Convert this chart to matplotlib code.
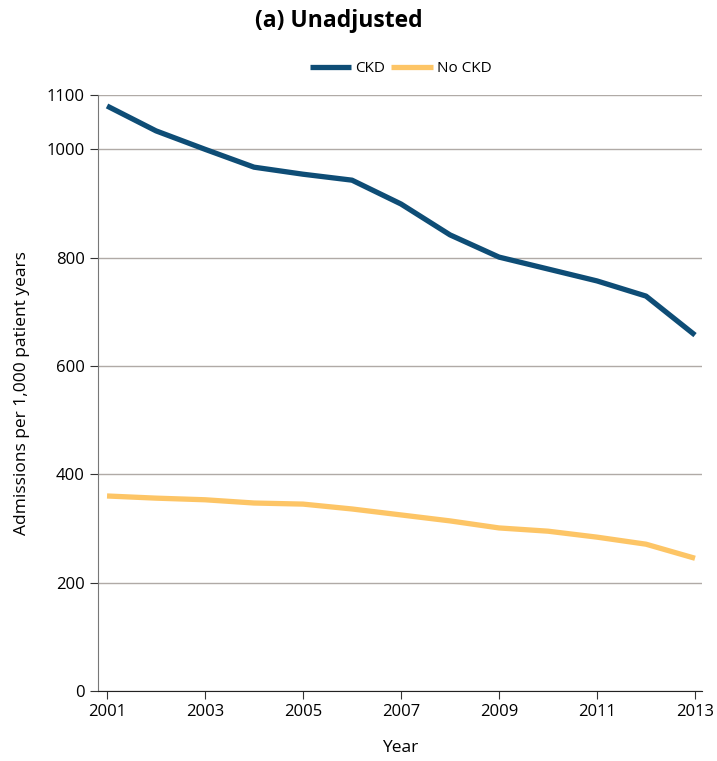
import matplotlib.pyplot as plt
import numpy as np

plt.rcParams['font.family'] = ['Open Sans', 'DejaVu Sans']

years = [2001, 2002, 2003, 2004, 2005, 2006, 2007, 2008, 2009, 2010, 2011, 2012, 2013]
ckd = [1080, 1034, 1000, 967, 954, 943, 899, 842, 801, 779, 757, 729, 657]
no_ckd = [360, 356, 353, 347, 345, 336, 325, 314, 301, 295, 284, 271, 245]
yticks = [0, 200, 400, 600, 800, 1000, 1100]
xticks = [2001, 2003, 2005, 2007, 2009, 2011, 2013]

fig = plt.figure(figsize=(7.17, 7.61), dpi=100)
ax = fig.add_axes([0.1367, 0.092, 0.8424, 0.783])

ax.plot(years, ckd, color="#0e4d76", lw=3.8, label="CKD", solid_capstyle="butt")
ax.plot(years, no_ckd, color="#fdc566", lw=3.8, label="No CKD", solid_capstyle="butt")

ax.set_xlim(2000.816, 2013.143)
ax.set_ylim(0, 1100)
ax.set_xticks(xticks)
ax.set_yticks(yticks)
ax.tick_params(labelsize=12, length=6, color="#333333")
ax.yaxis.grid(True, color="#b0aaa6", lw=1)
ax.set_axisbelow(True)

for s in ["top", "right"]:
    ax.spines[s].set_visible(False)
ax.spines["left"].set_color("#777777")
ax.spines["bottom"].set_color("#222222")

ax.set_xlabel("Year", fontsize=12.5, labelpad=14)
ax.set_ylabel("Admissions per 1,000 patient years", fontsize=12.5, labelpad=12)

fig.text(0.473, 0.972, "(a) Unadjusted", ha="center", va="center", fontsize=16.5, fontweight="bold")
fig.legend(loc="center", bbox_to_anchor=(0.559, 0.91), ncol=2, frameon=False,
           fontsize=11, handlelength=2.7, columnspacing=0.4, handletextpad=0.3)

fig.savefig("out.png", dpi=100)
